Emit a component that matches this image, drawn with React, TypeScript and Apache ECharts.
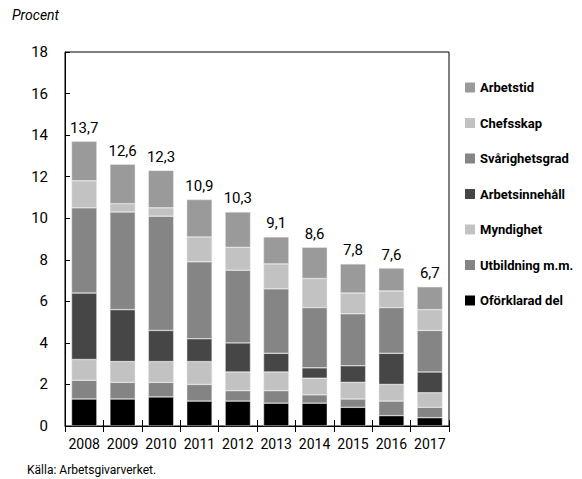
import React, { useEffect, useRef } from "react";
import * as echarts from "echarts";

const years = ["2008", "2009", "2010", "2011", "2012", "2013", "2014", "2015", "2016", "2017"];
const oforklarad = [1.3, 1.3, 1.4, 1.2, 1.2, 1.1, 1.1, 0.9, 0.5, 0.4];
const utbildning = [0.9, 0.8, 0.7, 0.8, 0.5, 0.6, 0.4, 0.4, 0.7, 0.5];
const myndighet = [1.0, 1.0, 1.0, 1.1, 0.9, 0.9, 0.8, 0.8, 0.8, 0.7];
const arbetsinnehall = [3.2, 2.5, 1.5, 1.1, 1.4, 0.9, 0.5, 0.8, 1.5, 1.0];
const svarighetsgrad = [4.1, 4.7, 5.5, 3.7, 3.5, 3.1, 2.9, 2.5, 2.2, 2.0];
const chefsskap = [1.3, 0.4, 0.4, 1.2, 1.1, 1.2, 1.4, 1.0, 0.8, 1.0];
const arbetstid = [1.9, 1.9, 1.8, 1.8, 1.7, 1.3, 1.5, 1.4, 1.1, 1.1];
const totals = [13.7, 12.6, 12.3, 10.9, 10.3, 9.1, 8.6, 7.8, 7.6, 6.7];

const FONT = "Roboto, sans-serif";

export default function App() {
  const ref = useRef<HTMLDivElement>(null);
  useEffect(() => {
    if (!ref.current) return;
    const chart = echarts.init(ref.current, null, { renderer: "svg" });
    const mk = (name: string, data: number[], color: string, top = false) => ({
      name,
      type: "bar",
      stack: "total",
      data,
      barWidth: "66%",
      itemStyle: { color, borderColor: "#e8e8e8", borderWidth: 0.5 },
      label: top
        ? {
            show: true,
            position: "top",
            distance: 6,
            color: "#000",
            fontFamily: FONT,
            fontSize: 15,
            formatter: (p: any) => String(totals[p.dataIndex]).replace(".", ","),
          }
        : { show: false },
    });
    chart.setOption({
      animation: false,
      textStyle: { fontFamily: FONT },
      grid: { left: 65, right: 133, top: 52, bottom: 53, show: true, borderColor: "#000", borderWidth: 1 },
      graphic: [
        { type: "text", left: 12, top: 8, style: { text: "Procent", font: "italic 14px " + FONT, fill: "#000" } },
        { type: "text", left: 27, top: 464, style: { text: "Källa: Arbetsgivarverket.", font: "12px " + FONT, fill: "#000" } },
      ],
      legend: {
        orient: "vertical",
        left: 460,
        top: 76,
        itemGap: 22.5,
        itemWidth: 10,
        itemHeight: 10,
        itemStyle: { borderWidth: 0 },
        icon: "rect",
        textStyle: { fontFamily: FONT, fontSize: 13, fontWeight: "bold", color: "#000" },
        data: ["Arbetstid", "Chefsskap", "Svårighetsgrad", "Arbetsinnehåll", "Myndighet", "Utbildning m.m.", "Oförklarad del"],
      },
      xAxis: [
        {
          type: "category",
          data: years,
          axisLine: { lineStyle: { color: "#000", width: 1 } },
          axisTick: { show: true, length: 6, lineStyle: { color: "#000" } },
          axisLabel: { color: "#000", fontSize: 14, margin: 11, fontFamily: FONT, interval: 0 },
        },
        {
          type: "category",
          data: years,
          position: "bottom",
          axisLine: { show: false },
          axisTick: { show: true, inside: true, length: 6, lineStyle: { color: "#000" } },
          axisLabel: { show: false },
        },
      ],
      yAxis: {
        type: "value",
        min: 0,
        max: 18,
        interval: 2,
        axisLine: { show: true, lineStyle: { color: "#000", width: 1 } },
        axisTick: { show: true, inside: true, length: 5, lineStyle: { color: "#000" } },
        splitLine: { show: false },
        axisLabel: { color: "#000", fontSize: 15, margin: 17, fontFamily: FONT },
      },
      series: [
        mk("Oförklarad del", oforklarad, "#000000"),
        mk("Utbildning m.m.", utbildning, "#848484"),
        mk("Myndighet", myndighet, "#c2c2c2"),
        mk("Arbetsinnehåll", arbetsinnehall, "#464646"),
        mk("Svårighetsgrad", svarighetsgrad, "#858585"),
        mk("Chefsskap", chefsskap, "#c2c2c2"),
        mk("Arbetstid", arbetstid, "#9a9a9a", true),
      ],
    });
    return () => chart.dispose();
  }, []);
  return <div ref={ref} style={{ width: 582, height: 479, position: "absolute", left: 0, top: 0 }} />;
}
